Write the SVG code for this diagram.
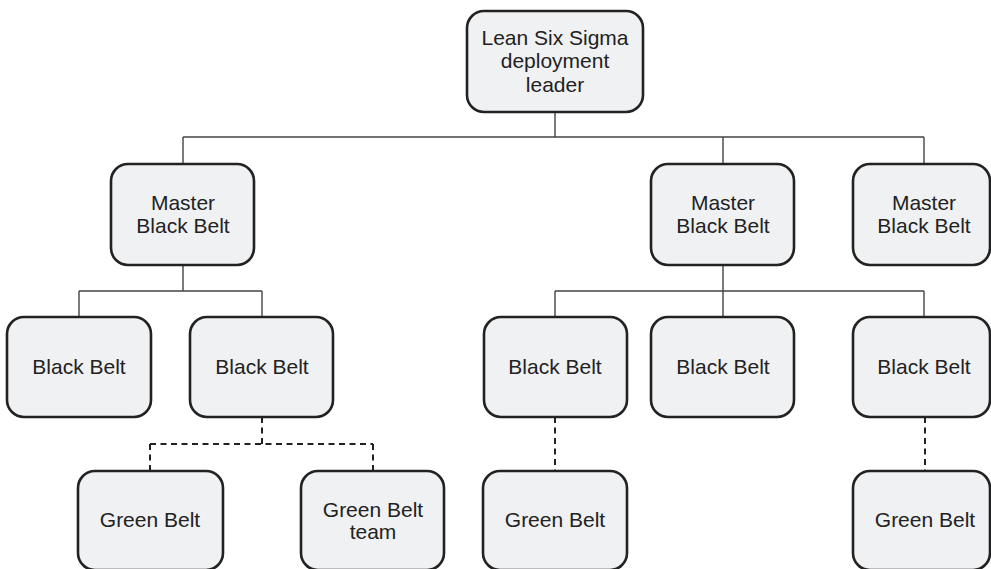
<svg xmlns="http://www.w3.org/2000/svg" width="991" height="569" viewBox="0 0 991 569">
  <style>
    .box { fill: #f0f1f3; stroke: #222; stroke-width: 2.6; }
    .lbl { font-family: "Liberation Sans", Arial, sans-serif; font-size: 21px; fill: #222; text-anchor: middle; }
    .solid { fill: none; stroke: #444; stroke-width: 1.4; }
    .dash { fill: none; stroke: #222; stroke-width: 2; stroke-dasharray: 6 4.5; }
  </style>
  <rect width="991" height="569" fill="#fff"/>

  <!-- connectors -->
  <g id="connectors">
    <path class="solid" d="M555 112 V137 M183 137 H924 M183 137 V164 M723 137 V164 M924 137 V164"/>
    <path class="solid" d="M183 265 V291 M79 291 H262 M79 291 V317 M262 291 V317"/>
    <path class="solid" d="M723 265 V317 M555 291 H924 M555 291 V317 M924 291 V317"/>
    <path class="dash" d="M262 417 V444 M150 444 H373 M150 444 V471 M373 444 V471"/>
    <path class="dash" d="M555 417 V471"/>
    <path class="dash" d="M925 417 V471"/>
  </g>

  <!-- top -->
  <g id="leader">
    <rect class="box" x="467" y="11" width="176" height="101" rx="17"/>
    <text class="lbl" x="555" y="45">Lean Six Sigma</text>
    <text class="lbl" x="555" y="68">deployment</text>
    <text class="lbl" x="555" y="92">leader</text>
  </g>

  <!-- master black belts -->
  <g id="mbb-1">
    <rect class="box" x="111" y="164" width="143" height="101" rx="17"/>
    <text class="lbl" x="183" y="210">Master</text>
    <text class="lbl" x="183" y="233">Black Belt</text>
  </g>
  <g id="mbb-2">
    <rect class="box" x="651" y="164" width="143" height="101" rx="17"/>
    <text class="lbl" x="723" y="210">Master</text>
    <text class="lbl" x="723" y="233">Black Belt</text>
  </g>
  <g id="mbb-3">
    <rect class="box" x="853" y="164" width="137" height="101" rx="17"/>
    <text class="lbl" x="924" y="210">Master</text>
    <text class="lbl" x="924" y="233">Black Belt</text>
  </g>

  <!-- black belts -->
  <g id="bb-1">
    <rect class="box" x="7" y="317" width="144" height="100" rx="17"/>
    <text class="lbl" x="79" y="374">Black Belt</text>
  </g>
  <g id="bb-2">
    <rect class="box" x="190" y="317" width="143" height="100" rx="17"/>
    <text class="lbl" x="262" y="374">Black Belt</text>
  </g>
  <g id="bb-3">
    <rect class="box" x="484" y="317" width="143" height="100" rx="17"/>
    <text class="lbl" x="555" y="374">Black Belt</text>
  </g>
  <g id="bb-4">
    <rect class="box" x="651" y="317" width="143" height="100" rx="17"/>
    <text class="lbl" x="723" y="374">Black Belt</text>
  </g>
  <g id="bb-5">
    <rect class="box" x="853" y="317" width="137" height="100" rx="17"/>
    <text class="lbl" x="924" y="374">Black Belt</text>
  </g>

  <!-- green belts -->
  <g id="gb-1">
    <rect class="box" x="78" y="471" width="145" height="99" rx="17"/>
    <text class="lbl" x="150" y="527">Green Belt</text>
  </g>
  <g id="gb-team">
    <rect class="box" x="301" y="471" width="143" height="99" rx="17"/>
    <text class="lbl" x="373" y="517">Green Belt</text>
    <text class="lbl" x="373" y="539">team</text>
  </g>
  <g id="gb-3">
    <rect class="box" x="483" y="471" width="144" height="99" rx="17"/>
    <text class="lbl" x="555" y="527">Green Belt</text>
  </g>
  <g id="gb-5">
    <rect class="box" x="853" y="471" width="137" height="99" rx="17"/>
    <text class="lbl" x="925" y="527">Green Belt</text>
  </g>
</svg>
